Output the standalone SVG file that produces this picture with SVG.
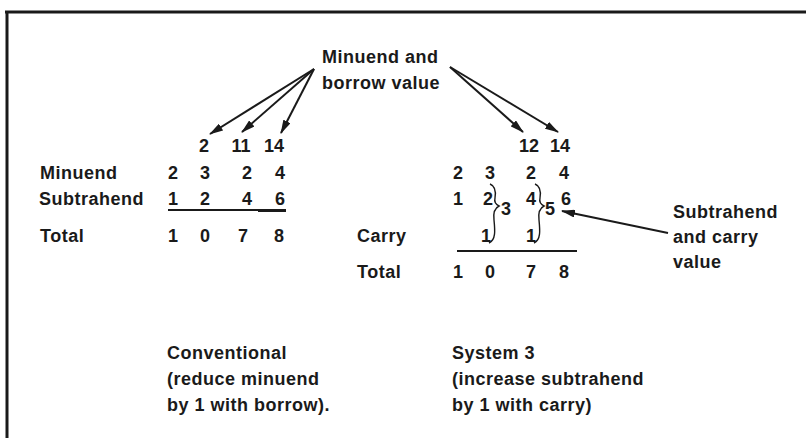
<svg xmlns="http://www.w3.org/2000/svg" width="806" height="438" viewBox="0 0 806 438">
<style>
text{font-family:"Liberation Sans",Arial,sans-serif;font-weight:bold;font-size:18px;fill:#1a1a1a;letter-spacing:0.5px}
.n{text-anchor:middle;letter-spacing:0}
.ln{stroke:#1a1a1a;stroke-width:2;fill:none}
.arr{stroke:#1a1a1a;stroke-width:2;fill:none;marker-end:url(#ah)}
.br{stroke:#1a1a1a;stroke-width:1.4;fill:none}
</style>
<defs>
<marker id="ah" viewBox="0 0 14 8" refX="13" refY="4" markerWidth="14" markerHeight="8" markerUnits="userSpaceOnUse" orient="auto">
<path d="M0,0 L14,4 L0,8 z" fill="#1a1a1a"/>
</marker>
</defs>
<g id="frame">
<line x1="5" y1="12" x2="806" y2="12" stroke="#1a1a1a" stroke-width="3"/>
<line x1="7" y1="11" x2="7" y2="438" stroke="#1a1a1a" stroke-width="3"/>
</g>
<g id="label-minuend-borrow">
<text x="322" y="63">Minuend and</text>
<text x="322" y="89">borrow value</text>
</g>
<g id="label-subtrahend-carry">
<text x="673" y="218">Subtrahend</text>
<text x="673" y="243">and carry</text>
<text x="673" y="268">value</text>
</g>
<g id="conventional">
<text class="n" x="204" y="152">2</text>
<text class="n" x="241" y="152">11</text>
<text class="n" x="274" y="152">14</text>
<text x="40" y="179">Minuend</text>
<text class="n" x="173" y="179">2</text>
<text class="n" x="205" y="179">3</text>
<text class="n" x="247" y="179">2</text>
<text class="n" x="280" y="179">4</text>
<text x="39" y="205">Subtrahend</text>
<text class="n" x="173" y="205">1</text>
<text class="n" x="205" y="205">2</text>
<text class="n" x="247" y="205">4</text>
<text class="n" x="280" y="205">6</text>
<line class="ln" x1="168" y1="210" x2="286" y2="210"/>
<line x1="258" y1="210.5" x2="286" y2="210.5" stroke="#1a1a1a" stroke-width="3"/>
<text x="40" y="242">Total</text>
<text class="n" x="173" y="242">1</text>
<text class="n" x="205" y="242">0</text>
<text class="n" x="243" y="242">7</text>
<text class="n" x="279" y="242">8</text>
</g>
<g id="system3">
<text class="n" x="529" y="152">12</text>
<text class="n" x="560" y="152">14</text>
<text class="n" x="458" y="179">2</text>
<text class="n" x="490" y="179">3</text>
<text class="n" x="531" y="179">2</text>
<text class="n" x="564" y="179">4</text>
<text class="n" x="458" y="205">1</text>
<text class="n" x="488" y="205">2</text>
<text class="n" x="531" y="205">4</text>
<text class="n" x="566" y="205">6</text>
<path class="br" d="M490,184 C495,186 496,192 495,198 C494,202 495,204 499,206 C495,208 493,212 494,220 C495,230 496,240 489,243"/>
<path class="br" d="M535,184 C540,186 541,192 540,198 C539,202 540,204 544,206 C540,208 538,212 539,220 C540,230 541,240 534,243"/>
<text class="n" x="506" y="215">3</text>
<text class="n" x="550" y="215">5</text>
<text x="357" y="242">Carry</text>
<text class="n" x="486" y="242">1</text>
<text class="n" x="531" y="242">1</text>
<line class="ln" x1="457" y1="251" x2="577" y2="251"/>
<text x="357" y="278">Total</text>
<text class="n" x="458" y="278">1</text>
<text class="n" x="490" y="278">0</text>
<text class="n" x="531" y="278">7</text>
<text class="n" x="564" y="278">8</text>
</g>
<g id="caption-conventional">
<text x="167" y="359">Conventional</text>
<text x="167" y="385">(reduce minuend</text>
<text x="167" y="411">by 1 with borrow).</text>
</g>
<g id="caption-system3">
<text x="452" y="359">System 3</text>
<text x="452" y="385">(increase subtrahend</text>
<text x="452" y="411">by 1 with carry)</text>
</g>
<g id="connectors">
<line class="arr" x1="314" y1="69" x2="210" y2="134"/>
<line class="arr" x1="314" y1="69" x2="242" y2="132"/>
<line class="arr" x1="314" y1="69" x2="281" y2="133"/>
<line class="arr" x1="450" y1="67" x2="523" y2="132"/>
<line class="arr" x1="450" y1="67" x2="558" y2="132"/>
<line class="arr" x1="668" y1="233" x2="562" y2="211"/>
</g>
</svg>
